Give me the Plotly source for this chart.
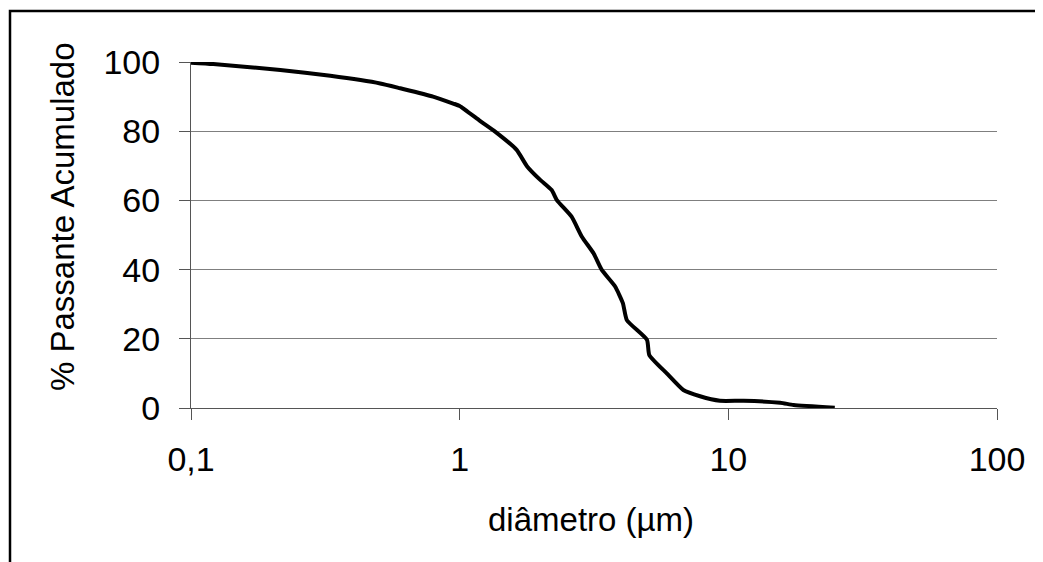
import plotly.graph_objects as go

# Particle size distribution
diametro = [0.1, 0.121, 0.215, 0.33, 0.506, 0.601, 0.796, 0.946, 1.0, 1.19, 1.355,
            1.63, 1.78, 1.99, 2.20, 2.30, 2.61, 2.85, 3.15, 3.38, 3.79, 4.05, 4.19,
            4.98, 5.08, 5.9, 6.8, 7.85, 9.3, 11.4, 15.6, 17.5, 24.9]
passante = [99.8, 99.4, 97.7, 96.0, 93.8, 92.4, 90.0, 88.0, 87.3, 83.0, 79.9,
            74.6, 69.9, 66.0, 63.0, 60.1, 55.3, 49.5, 44.7, 39.9, 35.1, 30.3, 25.4,
            19.7, 15.3, 10.0, 5.2, 3.4, 2.1, 2.1, 1.5, 0.9, 0.1]

x_tickvals = [0.1, 1, 10, 100]
x_ticktext = ["0,1", "1", "10", "100"]
y_tickvals = [0, 20, 40, 60, 80, 100]

FONT = "Liberation Sans, Arial, sans-serif"
OFF = 8  # page body margin
W, H = 1043 - OFF, 562 - OFF
L, R, T, B = 183, 46, 54, 154
pw, ph = W - L - R, H - T - B

def px_x(p):
    return (p - OFF - L) / pw

def px_y(p):
    return (H - B - (p - OFF)) / ph

fig = go.Figure()
fig.add_trace(go.Scatter(
    x=diametro, y=passante, mode="lines",
    line=dict(color="black", width=4, shape="spline", smoothing=0.5),
    showlegend=False, hoverinfo="skip",
))

fig.update_layout(
    width=W, height=H,
    margin=dict(l=L, r=R, t=T, b=B, pad=0),
    paper_bgcolor="white", plot_bgcolor="white",
    font=dict(family=FONT, size=34, color="black"),
    xaxis=dict(
        type="log", range=[-1, 2],
        tickvals=x_tickvals, ticktext=x_ticktext,
        ticks="outside", ticklen=11, tickwidth=1, tickcolor="#555555",
        showline=True, linecolor="#555555", linewidth=1,
        showgrid=False, zeroline=False,
        tickfont=dict(size=34, color="black"),
        ticklabelstandoff=10,
    ),
    yaxis=dict(
        range=[0, 100], tickvals=y_tickvals,
        ticks="outside", ticklen=11, tickwidth=1, tickcolor="#555555",
        showline=True, linecolor="#555555", linewidth=1,
        showgrid=True, gridcolor="#7f7f7f", gridwidth=1,
        zeroline=False,
        tickfont=dict(size=34, color="black"),
        ticklabelstandoff=12,
    ),
    annotations=[
        dict(text="diâmetro (µm)", xref="paper", yref="paper",
             x=px_x(591), y=px_y(519), xanchor="center", yanchor="middle",
             showarrow=False, font=dict(size=33, color="black", family=FONT)),
        dict(text="% Passante Acumulado", xref="paper", yref="paper",
             x=px_x(62), y=px_y(217), xanchor="center", yanchor="middle",
             textangle=-90, showarrow=False,
             font=dict(size=33, color="black", family=FONT)),
    ],
    shapes=[
        dict(type="rect", xref="paper", yref="paper",
             x0=px_x(10), x1=px_x(1060), y0=px_y(580), y1=px_y(11),
             line=dict(color="black", width=2.5), fillcolor="rgba(0,0,0,0)",
             layer="above"),
    ],
)

fig.write_html("out.html")
